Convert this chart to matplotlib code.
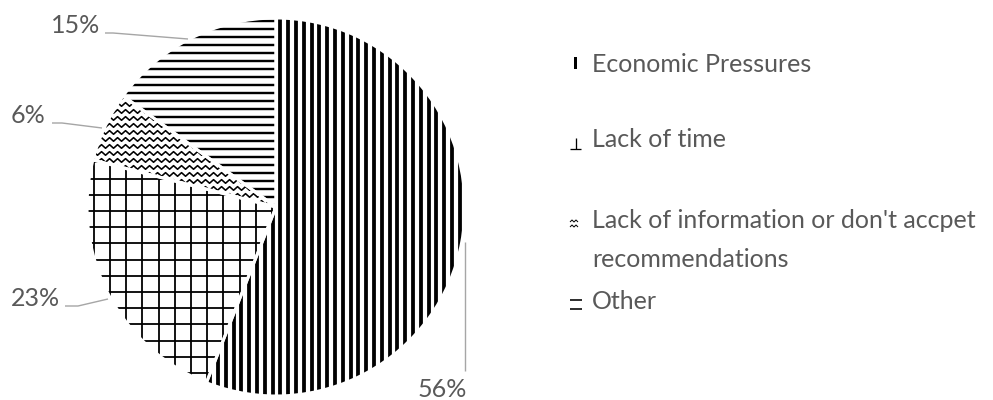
import numpy as np
import matplotlib
matplotlib.use("Agg")
import matplotlib.pyplot as plt
from matplotlib.collections import LineCollection
from matplotlib.lines import Line2D
from matplotlib.patches import Rectangle

# ---- data ----
categories = ["Economic Pressures", "Lack of time",
              "Lack of information or don't accpet recommendations", "Other"]
legend_lines = [["Economic Pressures"], ["Lack of time"],
                ["Lack of information or don't accpet", "recommendations"], ["Other"]]
values = [56, 23, 6, 15]
pct_labels = ["56%", "23%", "6%", "15%"]

FONT = "Lato"
TXT = "#595959"
LEAD = "#A6A6A6"
FS = 18

W, H = 993, 400
fig = plt.figure(figsize=(W / 100, H / 100), dpi=100)
cx, cy, R = 276, 207, 189
ax = fig.add_axes([(cx - R) / W, (H - cy - R) / H, 2 * R / W, 2 * R / H])
wedges, _ = ax.pie(values, startangle=90, counterclock=False, radius=1,
                   colors=["white"] * len(values), wedgeprops=dict(linewidth=0))
ax.set_xlim(-1, 1)
ax.set_ylim(-1, 1)
ax.axis("off")

s = 1.0 / R  # data units per pixel
pt = 72 / 100  # points per pixel


def add_clipped(segs, wedge, lw_px):
    lc = LineCollection(segs, colors="black", linewidths=lw_px * pt, capstyle="butt", zorder=3)
    ax.add_collection(lc)
    lc.set_clip_path(wedge)


# Economic: vertical stripes
xs = np.arange(-1.05, 1.05, 7.8 * s)
add_clipped([[(x, -1.05), (x, 1.05)] for x in xs], wedges[0], 3.8)
# Lack of time: grid
g = np.arange(-1.05, 1.05, 16.2 * s)
add_clipped([[(x, -1.05), (x, 1.05)] for x in g] + [[(-1.05, y), (1.05, y)] for y in g], wedges[1], 1.8)
# Lack of info: zigzag rows
rows = np.arange(-1.05, 1.05, 7.0 * s)
zx = np.arange(-1.05, 1.05, 4.0 * s)
segs = []
for y in rows:
    zy = y + np.where(np.arange(len(zx)) % 2 == 0, 1.8 * s, -1.8 * s)
    segs.append(list(zip(zx, zy)))
add_clipped(segs, wedges[2], 1.6)
# Other: horizontal stripes
hs = np.arange(-1.05, 1.05, 8.0 * s)
add_clipped([[(-1.05, y), (1.05, y)] for y in hs], wedges[3], 2.4)

# white separators
for w in wedges:
    w.set_facecolor("none")
    w.set_edgecolor("white")
    w.set_linewidth(3.0 * pt)
    w.set_zorder(5)


def P(x, y):
    return (x / W, 1 - y / H)


def fig_line(pts, color, lw_px):
    xs_ = [P(*p)[0] for p in pts]
    ys_ = [P(*p)[1] for p in pts]
    fig.add_artist(Line2D(xs_, ys_, transform=fig.transFigure, color=color,
                          linewidth=lw_px * pt, solid_capstyle="butt"))


# percentage labels with leader lines
label_pos = {"56%": (442, 397, "center"), "23%": (60, 306, "right"),
             "6%": (45, 123, "right"), "15%": (100, 33, "right")}
leaders = {"56%": [(465, 242), (465, 371)],
           "23%": [(65, 306), (78, 306), (108, 299)],
           "6%": [(52, 123), (62, 123), (102, 128)],
           "15%": [(105, 33), (113, 33), (188, 39)]}
for lab in pct_labels:
    x, y, ha = label_pos[lab]
    fig.text(*P(x, y), lab, ha=ha, va="baseline", fontsize=FS, color=TXT, family=FONT)
    fig_line(leaders[lab], LEAD, 1.4)

# legend
tx = 592
baselines = [[72], [147], [228, 267], [309]]
for lines_, bl in zip(legend_lines, baselines):
    for t, b in zip(lines_, bl):
        fig.text(*P(tx, b), t, ha="left", va="baseline", fontsize=FS, color=TXT, family=FONT)

# legend markers
fig.add_artist(Rectangle(P(574, 69), 3 / W, 12 / H, transform=fig.transFigure,
                         facecolor="black", edgecolor="none"))
fig_line([(570, 149), (581, 149)], "black", 1.3)
fig_line([(575.5, 138), (575.5, 149)], "black", 1.3)
for yy in (221, 226):
    fig_line([(570, yy + 1), (572, yy - 1), (574, yy + 1), (576, yy - 1), (578, yy + 1)], "black", 1.0)
fig_line([(570, 300), (582, 300)], "black", 1.6)
fig_line([(570, 309), (582, 309)], "black", 1.6)

fig.savefig("out.png", dpi=100, facecolor="white")
